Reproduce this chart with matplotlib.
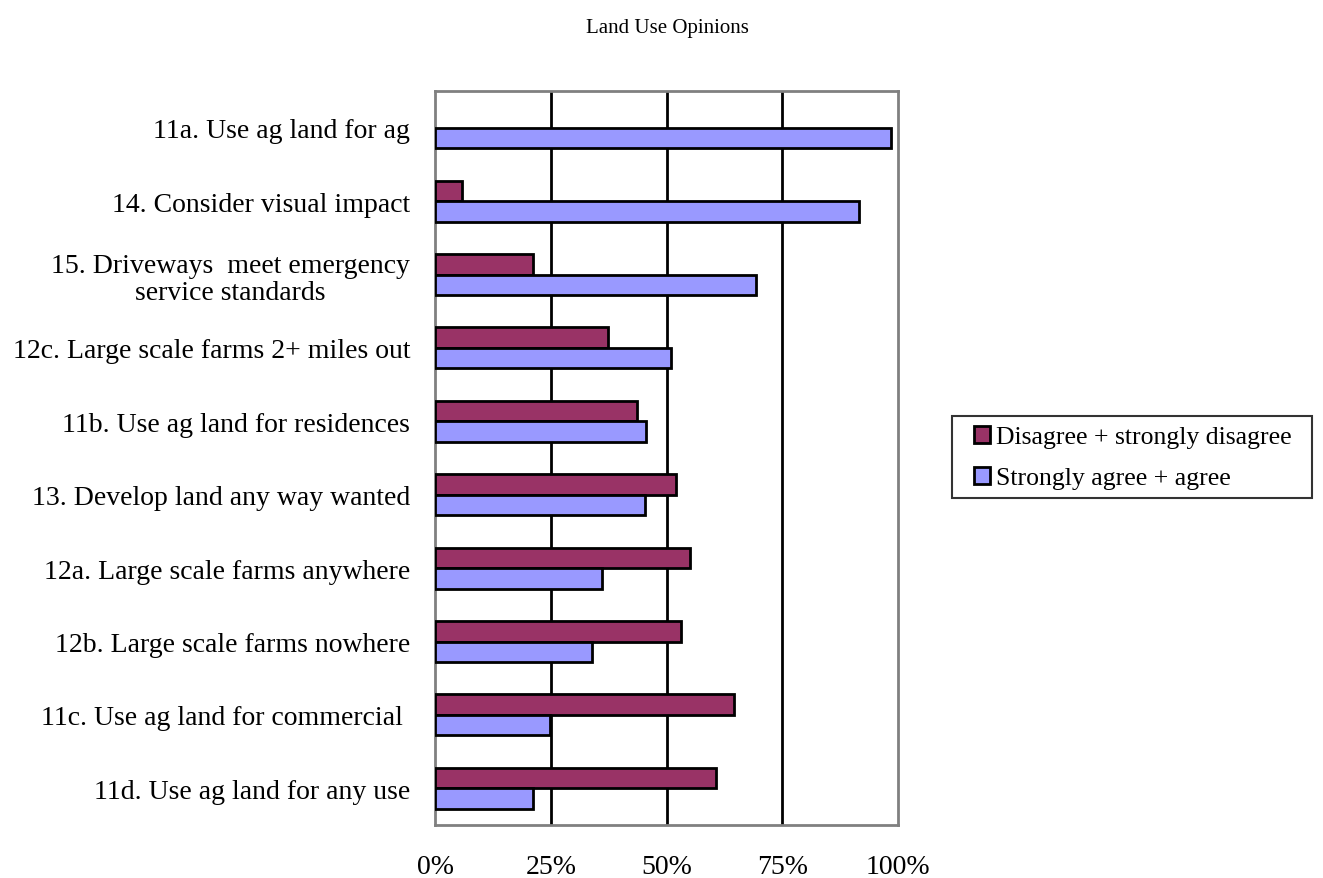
import matplotlib
matplotlib.use("Agg")
import matplotlib.pyplot as plt
from matplotlib.patches import Rectangle
from matplotlib.legend_handler import HandlerPatch, update_from_first_child
from matplotlib.container import BarContainer
import numpy as np

plt.rcParams['font.family'] = ['Liberation Serif', 'DejaVu Serif']

categories = [
    "11a. Use ag land for ag",
    "14. Consider visual impact",
    "15. Driveways  meet emergency\nservice standards",
    "12c. Large scale farms 2+ miles out",
    "11b. Use ag land for residences",
    "13. Develop land any way wanted",
    "12a. Large scale farms anywhere",
    "12b. Large scale farms nowhere",
    "11c. Use ag land for commercial ",
    "11d. Use ag land for any use",
]
disagree = [0, 5.8, 21.1, 37.3, 43.6, 52.0, 55.0, 53.1, 64.5, 60.7]
agree = [98.4, 91.6, 69.3, 51.0, 45.6, 45.3, 36.0, 34.0, 24.8, 21.1]
series_names = ["Disagree + strongly disagree", "Strongly agree + agree"]
xticks = [0, 25, 50, 75, 100]
xticklabels = ["0%", "25%", "50%", "75%", "100%"]

red = "#993366"
blue = "#9999FF"

fig = plt.figure(figsize=(13.23, 8.79), dpi=100)
ax = fig.add_axes([0.3288, 0.0603, 0.35, 0.835])

y = np.arange(len(categories))
h = 0.28
dis_vals = np.array(disagree)
mask = dis_vals > 0
ax.barh(y[mask] - h / 2, dis_vals[mask], height=h, color=red, edgecolor='black',
        linewidth=2.0, label=series_names[0], zorder=3)
ax.barh(y + h / 2, agree, height=h, color=blue, edgecolor='black',
        linewidth=2.0, label=series_names[1], zorder=3)

ax.set_xlim(0, 100)
ax.set_ylim(len(categories) - 0.5, -0.5)
ax.set_xticks(xticks)
ax.set_xticklabels(xticklabels, fontsize=20)
ax.set_yticks(y)
ax.set_yticklabels(categories, fontsize=20, multialignment='center', linespacing=1.15)
ax.tick_params(axis='both', length=0)
ax.tick_params(axis='y', pad=18)
ax.tick_params(axis='x', pad=21)
for xv in [25, 50, 75]:
    ax.axvline(xv, color='black', linewidth=2, zorder=1)
for s in ax.spines.values():
    s.set_color('#808080')
    s.set_linewidth(2)

fig.text(0.5045, 0.968, "Land Use Opinions", ha='center', va='center', fontsize=15)


def square_right(legend, orig_handle, xdescent, ydescent, width, height, fontsize):
    s = 12.0
    return Rectangle((-xdescent + width - s, -ydescent + (height - s) / 2), s, s)


handles, labels = ax.get_legend_handles_labels()
leg = fig.legend(handles, labels, loc='upper left',
                 bbox_to_anchor=(952 / 1323, 1 - 501 / 879, 360 / 1323, 84 / 879),
                 mode='expand',
                 fontsize=18.5, frameon=True, fancybox=False, edgecolor='black',
                 handlelength=1.13, handleheight=0.7, handletextpad=0.23,
                 borderpad=0.36, labelspacing=0.7, borderaxespad=0,
                 handler_map={BarContainer: HandlerPatch(patch_func=square_right,
                                                         update_func=update_from_first_child)})
leg.get_frame().set_linewidth(1.5)

fig.savefig("out.png", dpi=100)
